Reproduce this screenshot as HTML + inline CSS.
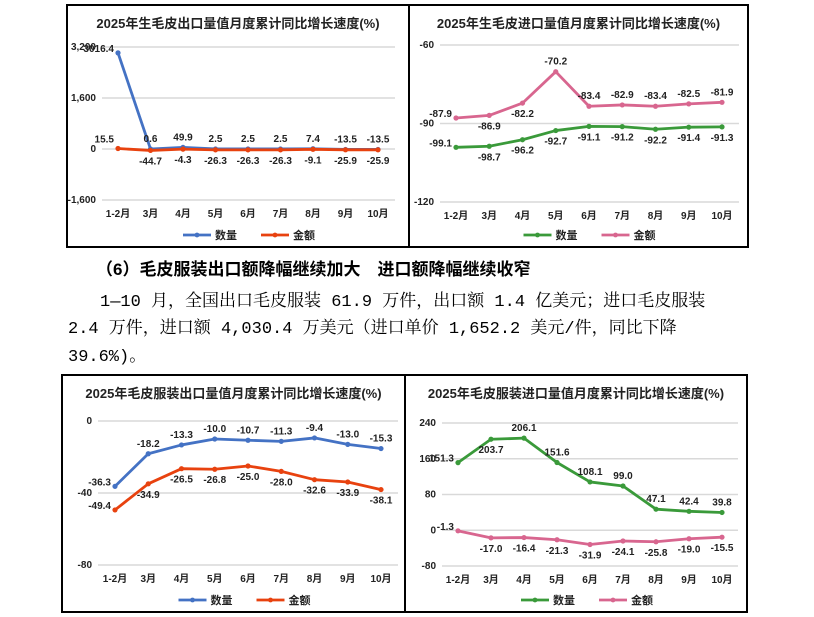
<!DOCTYPE html>
<html><head><meta charset="utf-8">
<style>
body{margin:0;background:#fff;width:814px;height:617px;overflow:hidden;position:relative;font-family:"Liberation Sans","Noto Sans CJK SC",sans-serif}
svg{position:absolute;left:0;top:0}
.p{position:absolute;font-family:"Liberation Mono","Noto Serif CJK SC",serif;font-size:17px;color:#000;white-space:nowrap;margin:0}
</style></head><body>
<p class="p" style="left:96px;top:255px;font-family:'Liberation Sans','Noto Sans CJK SC',sans-serif;font-weight:bold">（6）毛皮服装出口额降幅继续加大　进口额降幅继续收窄</p>
<p class="p" style="left:100px;top:286px">1—10 月，全国出口毛皮服装 61.9 万件，出口额 1.4 亿美元；进口毛皮服装</p>
<p class="p" style="left:68px;top:313px">2.4 万件，进口额 4,030.4 万美元（进口单价 1,652.2 美元/件，同比下降</p>
<p class="p" style="left:68px;top:341px">39.6%)。</p>
<svg id="s" width="814" height="617"></svg>
<script>
const cats=["1-2月","3月","4月","5月","6月","7月","8月","9月","10月"];
const c1Qty=[3016.4,0.6,49.9,2.5,2.5,2.5,7.4,-13.5,-13.5];
const c1Val=[15.5,-44.7,-4.3,-26.3,-26.3,-26.3,-9.1,-25.9,-25.9];
const c1Ticks=[3200,1600,0,-1600];
const c2Qty=[-99.1,-98.7,-96.2,-92.7,-91.1,-91.2,-92.2,-91.4,-91.3];
const c2Val=[-87.9,-86.9,-82.2,-70.2,-83.4,-82.9,-83.4,-82.5,-81.9];
const c2Ticks=[-60,-90,-120];
const c3Qty=[-36.3,-18.2,-13.3,-10.0,-10.7,-11.3,-9.4,-13.0,-15.3];
const c3Val=[-49.4,-34.9,-26.5,-26.8,-25.0,-28.0,-32.6,-33.9,-38.1];
const c3Ticks=[0,-40,-80];
const c4Qty=[151.3,203.7,206.1,151.6,108.1,99.0,47.1,42.4,39.8];
const c4Val=[-1.3,-17.0,-16.4,-21.3,-31.9,-24.1,-25.8,-19.0,-15.5];
const c4Ticks=[240,160,80,0,-80];

const S=document.getElementById('s');const NS='http://www.w3.org/2000/svg';
function mk(t,a,txt){const e=document.createElementNS(NS,t);for(const k in a)e.setAttribute(k,a[k]);if(txt!==undefined)e.textContent=txt;S.appendChild(e);return e;}
function fmt(v){return v.toFixed(1);}
function fmtT(v){return Math.abs(v)>=1000?v.toLocaleString('en-US'):String(v);}
function chart(o){
  const b=mk('rect',{x:o.bx,y:o.by,width:o.bw,height:o.bh,fill:'#fff',stroke:'#000','stroke-width':2});
  
  const t=mk('text',{x:o.bx+o.bw/2,y:o.by+23,'text-anchor':'middle','font-size':13,'font-weight':'bold',fill:'#222'},o.title);
  
  const ymax=o.ticks[0],ymin=o.ticks[o.ticks.length-1];
  const Y=v=>o.y0+(ymax-v)/(ymax-ymin)*(o.y1-o.y0);
  const X=i=>o.x0+i*(o.x1-o.x0)/(cats.length-1);
  o.ticks.forEach(v=>{
    const g=mk('line',{x1:o.gx0,x2:o.gx1,y1:Y(v),y2:Y(v),stroke:'#d9d9d9','stroke-width':1.5});
    
    const l=mk('text',{x:o.gx0-6,y:Y(v)+3,'text-anchor':'end','font-size':10,'font-weight':'bold',fill:'#222'},fmtT(v));
    
  });
  cats.forEach((c,i)=>{
    const l=mk('text',{x:X(i),y:o.y1+17,'text-anchor':'middle','font-size':10,'font-weight':'bold',fill:'#222'},c);
    
  });
  o.series.forEach((s,si)=>{
    const p=mk('polyline',{points:s.d.map((v,i)=>X(i)+','+Y(v)).join(' '),fill:'none',stroke:s.c,'stroke-width':2.8,'stroke-linejoin':'round'});
    
    s.d.forEach((v,i)=>{
      const m=mk('circle',{cx:X(i),cy:Y(v),r:2.6,fill:s.c});
      
      const pos=(s.pos&&s.pos[i])||s.lp;
      let dx=0,dy=pos==='a'?-7:14,anc='middle';
      if(pos==='l'){dx=-4;dy=-1;anc='end';}
      if(pos==='al'){dx=-4;dy=-6;anc='end';}
      const lb=mk('text',{x:X(i)+dx,y:Y(v)+dy,'text-anchor':anc,'font-size':10,'font-weight':'bold',fill:'#222'},fmt(v));
      
    });
    const lx=o.bx+o.bw/2-55+si*78, ly=o.by+o.bh-12;
    const ll=mk('line',{x1:lx,x2:lx+28,y1:ly,y2:ly,stroke:s.c,'stroke-width':2.8});
    
    const lc=mk('circle',{cx:lx+14,cy:ly,r:2.4,fill:s.c});
    
    const lt=mk('text',{x:lx+32,y:ly+4,'font-size':11,'font-weight':'bold',fill:'#222'},s.label);
    
  });
}
const BLUE='#4472c4',RED='#e8420f',GREEN='#3a9a3a',PINK='#d8668f';
chart({id:'chart1',title:'2025年生毛皮出口量值月度累计同比增长速度(%)',bx:67,by:5,bw:342,bh:242,x0:118,x1:378,gx0:102,gx1:395,y0:47,y1:200,ticks:c1Ticks,
 series:[{n:'qty',label:'数量',c:BLUE,d:c1Qty,lp:'a',pos:['l']},{n:'val',label:'金额',c:RED,d:c1Val,lp:'b',pos:['al']}]});
chart({id:'chart2',title:'2025年生毛皮进口量值月度累计同比增长速度(%)',bx:409,by:5,bw:339,bh:242,x0:456,x1:722,gx0:440,gx1:739,y0:45,y1:202,ticks:c2Ticks,
 series:[{n:'qty',label:'数量',c:GREEN,d:c2Qty,lp:'b',pos:['l']},{n:'val',label:'金额',c:PINK,d:c2Val,lp:'a',pos:['l','b','b']}]});
chart({id:'chart3',title:'2025年毛皮服装出口量值月度累计同比增长速度(%)',bx:62,by:375,bw:343,bh:237,x0:115,x1:381,gx0:98,gx1:398,y0:421,y1:565,ticks:c3Ticks,
 series:[{n:'qty',label:'数量',c:BLUE,d:c3Qty,lp:'a',pos:['l']},{n:'val',label:'金额',c:RED,d:c3Val,lp:'b',pos:['l','b','b','b','b','b','b','b','b']}]});
chart({id:'chart4',title:'2025年毛皮服装进口量值月度累计同比增长速度(%)',bx:405,by:375,bw:342,bh:237,x0:458,x1:722,gx0:442,gx1:738,y0:423,y1:566,ticks:c4Ticks,
 series:[{n:'qty',label:'数量',c:GREEN,d:c4Qty,lp:'a',pos:['l','b']},{n:'val',label:'金额',c:PINK,d:c4Val,lp:'b',pos:['l']}]});
</script>
</body></html>
